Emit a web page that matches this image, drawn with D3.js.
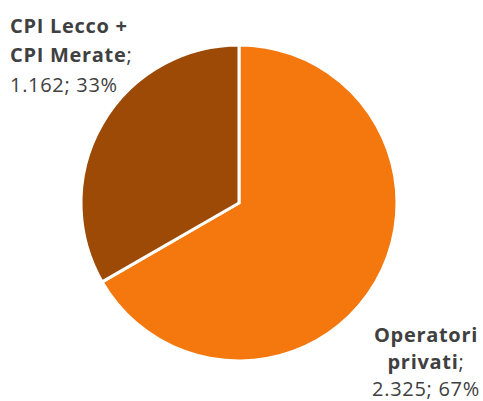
<!DOCTYPE html>
<html><head><meta charset="utf-8">
<script src="https://cdn.jsdelivr.net/npm/d3@7"></script>
<style>body{margin:0;background:#fff}text{font-family:"Open Sans",sans-serif;letter-spacing:0.7px}</style>
</head><body>
<svg id="c" width="483" height="401"></svg>
<script>
const categories = ["Operatori privati", "CPI Lecco + CPI Merate"];
const values = [2325, 1162];
const valueLabels = ["2.325", "1.162"];
const percentLabels = ["67%", "33%"];
const colors = ["#F4780D", "#9D4A06"];

const svg = d3.select("#c");
const cx = 239, cy = 203, r = 158;
const pie = d3.pie().sort(null)(values);
const arc = d3.arc().innerRadius(0).outerRadius(r);
const g = svg.append("g").attr("transform", `translate(${cx},${cy})`);
g.selectAll("path").data(pie).enter().append("path")
  .attr("d", arc).attr("fill", (d, i) => colors[i])
  .attr("stroke", "#fff").attr("stroke-width", 3).attr("stroke-linejoin", "miter");

const fs = 20, col = "#404040";
// Label CPI (top-left)
const t1 = svg.append("text").attr("font-size", fs).attr("fill", col);
t1.append("tspan").attr("x", 10).attr("y", 33).attr("font-weight", "bold").text("CPI Lecco +");
const l2 = t1.append("tspan").attr("x", 10).attr("y", 62);
l2.append("tspan").attr("font-weight", "bold").text("CPI Merate");
l2.append("tspan").text(";");
t1.append("tspan").attr("x", 10).attr("y", 92).text(valueLabels[1] + "; " + percentLabels[1]);

// Label Operatori privati (bottom-right)
const t2 = svg.append("text").attr("font-size", fs).attr("fill", col).attr("text-anchor", "middle");
t2.append("tspan").attr("x", 426).attr("y", 342).attr("font-weight", "bold").text("Operatori");
const m2 = t2.append("tspan").attr("x", 426).attr("y", 369);
m2.append("tspan").attr("font-weight", "bold").text("privati");
m2.append("tspan").text(";");
t2.append("tspan").attr("x", 426).attr("y", 396).text(valueLabels[0] + "; " + percentLabels[0]);
</script>
</body></html>
